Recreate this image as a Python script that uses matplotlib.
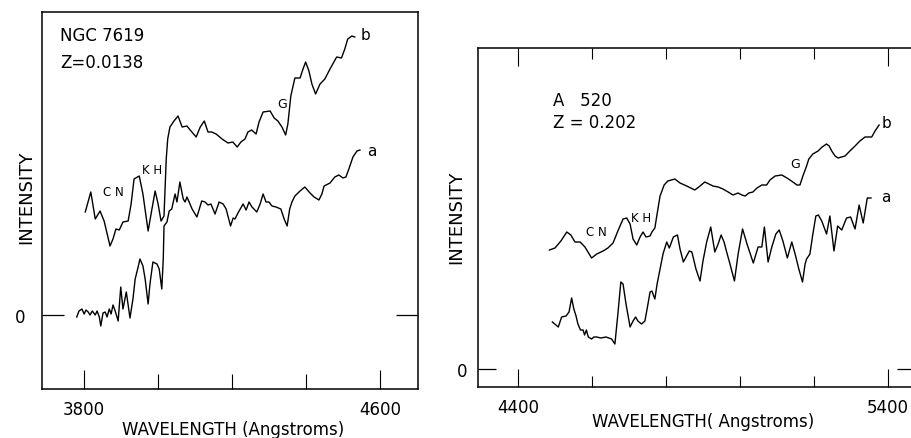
import matplotlib
matplotlib.use("Agg")
import matplotlib.pyplot as plt

# --- NGC 7619 (z = 0.0138), intensity in arbitrary units, 0 = zero level ---
ngc_b_wl = [3803, 3818, 3830, 3843, 3854, 3870, 3878, 3886, 3895, 3905, 3919, 3927,
            3935, 3949, 3959, 3973, 3981, 3992, 4000, 4008, 4016, 4022, 4026, 4032,
            4043, 4054, 4065, 4078, 4089, 4103, 4114, 4125, 4135, 4145, 4157, 4173,
            4189, 4202, 4214, 4224, 4235, 4243, 4253, 4265, 4273, 4284, 4303, 4314,
            4324, 4335, 4345, 4351, 4359, 4370, 4384, 4392, 4399, 4408, 4416, 4426,
            4438, 4451, 4465, 4483, 4496, 4505, 4513, 4524, 4532]
ngc_b_int = [10.3, 12.3, 9.6, 10.4, 9.4, 6.9, 7.6, 8.6, 8.5, 9.3, 9.4, 11.1,
             13.6, 13.9, 12.1, 8.4, 10.1, 12.4, 11.1, 9.4, 9.9, 15.6, 17.6, 18.8,
             19.4, 19.9, 18.8, 18.9, 18.4, 17.8, 18.8, 19.4, 18.3, 18.3, 18.1, 17.6,
             17.2, 17.3, 16.8, 17.3, 17.6, 18.3, 18.5, 18.1, 19.3, 20.3, 20.4, 19.7,
             19.4, 18.8, 18.0, 19.1, 21.9, 23.7, 23.7, 24.6, 25.3, 24.4, 23.1, 22.1,
             23.1, 23.6, 24.6, 25.8, 25.7, 26.6, 27.6, 27.9, 27.8]

ngc_a_wl = [3780, 3786, 3794, 3800, 3805, 3811, 3816, 3822, 3830, 3835, 3841, 3845,
            3851, 3857, 3862, 3868, 3873, 3878, 3884, 3892, 3899, 3905, 3914, 3924,
            3932, 3938, 3946, 3951, 3959, 3965, 3973, 3978, 3986, 3997, 4003, 4010,
            4014, 4016, 4024, 4030, 4037, 4041, 4046, 4051, 4059, 4068, 4073, 4078,
            4084, 4092, 4105, 4118, 4127, 4135, 4143, 4154, 4165, 4176, 4184, 4196,
            4203, 4208, 4216, 4230, 4238, 4246, 4254, 4267, 4276, 4284, 4292, 4300,
            4308, 4319, 4332, 4341, 4349, 4356, 4362, 4370, 4384, 4397, 4411, 4422,
            4435, 4443, 4449, 4465, 4478, 4489, 4500, 4508, 4516, 4527, 4538, 4546]
ngc_a_int = [-0.2, 0.4, 0.6, 0.1, 0.5, 0.3, 0.0, 0.4, 0.0, 0.4, -0.2, -1.1,
             0.2, 0.3, -0.2, 0.6, 0.1, 1.0, 0.4, -0.6, 2.8, 0.6, 2.3, -0.3,
             1.6, 3.6, 4.8, 5.6, 4.9, 3.6, 1.1, 3.1, 5.3, 5.1, 4.6, 2.6,
             5.6, 8.9, 9.3, 10.4, 10.6, 11.3, 12.1, 11.3, 13.3, 11.6, 11.3, 11.8,
             11.3, 10.6, 9.8, 11.4, 11.3, 11.0, 11.1, 10.1, 11.3, 11.1, 10.6, 8.9,
             9.7, 9.6, 10.2, 11.1, 10.5, 11.3, 10.8, 10.3, 11.1, 12.1, 11.3, 11.3,
             10.9, 10.8, 10.6, 9.6, 8.9, 10.6, 11.3, 11.9, 12.4, 12.8, 12.2, 11.8,
             11.5, 12.1, 12.9, 13.2, 13.8, 14.0, 13.7, 13.8, 14.6, 15.8, 16.4, 16.5]

# --- A 520 (z = 0.202) ---
a520_b_wl = [4485, 4500, 4516, 4532, 4543, 4554, 4568, 4581, 4599, 4613, 4630, 4643,
             4657, 4670, 4684, 4694, 4703, 4711, 4721, 4730, 4738, 4746, 4757, 4762,
             4770, 4776, 4784, 4795, 4805, 4824, 4838, 4856, 4878, 4892, 4905, 4916,
             4927, 4941, 4954, 4968, 4981, 4995, 5005, 5014, 5024, 5035, 5046, 5059,
             5072, 5081, 5095, 5113, 5127, 5143, 5154, 5162, 5170, 5180, 5186, 5197,
             5211, 5222, 5234, 5241, 5248, 5257, 5265, 5284, 5297, 5311, 5324, 5338,
             5356, 5365, 5376]
a520_b_int = [11.9, 12.1, 12.8, 13.7, 13.4, 12.7, 12.7, 12.2, 11.1, 11.5, 11.8, 12.1,
              12.6, 13.8, 15.0, 15.1, 14.5, 13.0, 12.4, 13.2, 13.7, 13.2, 13.3, 13.7,
              14.1, 15.5, 17.3, 18.4, 18.8, 19.0, 18.6, 18.3, 17.9, 18.3, 18.7, 18.5,
              18.3, 18.2, 18.0, 17.7, 17.4, 17.6, 17.4, 17.3, 17.6, 17.7, 18.1, 18.4,
              18.4, 18.9, 19.3, 19.4, 19.1, 18.7, 18.4, 18.4, 19.3, 20.3, 21.0, 21.5,
              21.8, 22.2, 22.5, 22.3, 21.8, 21.3, 21.1, 21.3, 21.8, 22.3, 22.8, 23.2,
              23.2, 23.8, 24.4]

a520_a_wl = [4493, 4509, 4518, 4530, 4538, 4545, 4551, 4557, 4562, 4569, 4576, 4580,
             4585, 4590, 4599, 4605, 4613, 4624, 4638, 4653, 4662, 4670, 4678, 4684,
             4692, 4703, 4711, 4718, 4724, 4734, 4743, 4749, 4757, 4762, 4770, 4776,
             4784, 4792, 4802, 4809, 4820, 4831, 4838, 4847, 4863, 4870, 4881, 4892,
             4900, 4910, 4921, 4932, 4941, 4949, 4957, 4964, 4973, 4985, 4995, 5007,
             5019, 5036, 5049, 5059, 5066, 5076, 5086, 5097, 5106, 5116, 5128, 5140,
             5149, 5159, 5169, 5176, 5180, 5189, 5197, 5205, 5212, 5221, 5227, 5234,
             5243, 5254, 5264, 5275, 5288, 5299, 5311, 5322, 5333, 5344, 5354]
a520_a_int = [4.7, 4.2, 5.2, 5.3, 5.7, 7.1, 6.0, 5.3, 4.5, 3.9, 3.9, 3.4,
              3.9, 3.2, 3.0, 3.2, 3.2, 3.1, 3.2, 3.0, 2.5, 5.5, 8.7, 8.5,
              6.5, 4.2, 4.8, 5.2, 4.8, 4.5, 4.8, 6.0, 7.7, 7.8, 7.0, 8.5,
              10.0, 11.5, 12.7, 12.1, 13.2, 13.4, 12.0, 10.7, 11.8, 11.7, 10.0, 8.8,
              10.8, 12.7, 14.2, 11.7, 12.5, 13.4, 12.7, 11.7, 10.5, 8.8, 11.5, 14.0,
              12.5, 10.6, 12.2, 12.2, 14.2, 10.7, 12.2, 13.5, 13.9, 12.8, 11.1, 12.7,
              11.5, 10.0, 8.7, 10.5, 11.0, 11.5, 13.5, 15.3, 15.4, 14.8, 14.2, 13.5,
              15.3, 11.8, 14.3, 13.9, 15.1, 15.2, 14.0, 16.4, 14.6, 17.1, 17.1]

W, H = 912, 439
fig = plt.figure(figsize=(W / 100, H / 100), dpi=100)
plt.rcParams['font.family'] = 'DejaVu Sans'


def box(x0, y0, x1, y1):
    # pixel box -> figure fraction [left, bottom, width, height]
    return [x0 / W, 1 - y1 / H, (x1 - x0) / W, (y1 - y0) / H]


ax1 = fig.add_axes(box(42, 13, 418, 390))
ax2 = fig.add_axes(box(478, 49, 915, 388))

for ax in (ax1, ax2):
    for s in ax.spines.values():
        s.set_linewidth(1.1)

# left panel
ax1.plot(ngc_b_wl, ngc_b_int, color='black', lw=1.0)
ax1.plot(ngc_a_wl, ngc_a_int, color='black', lw=1.0)
ax1.set_xlim(3686, 4703)
ax1.set_ylim(-7.4, 30.3)
ax1.set_xticks([3800, 4600], ['3800', '4600'])
ax1.set_xticks([4000, 4200, 4400], minor=True)
ax1.set_yticks([0], ['0'])
ax1.tick_params(axis='x', which='major', direction='in', length=14, width=0.8,
                labelsize=12, pad=8)
ax1.tick_params(axis='x', which='minor', direction='in', length=11, width=0.8)
ax1.tick_params(axis='y', direction='in', length=16, width=0.9, left=True,
                right=True, labelsize=12, pad=12)

ax1.text(3735, 28.0, 'NGC 7619', fontsize=12, va='center')
ax1.text(3735, 25.3, 'Z=0.0138', fontsize=12, va='center')
ax1.text(3878, 12.3, 'C N', fontsize=8.5, ha='center', va='center')
ax1.text(3984, 14.6, 'K H', fontsize=8.5, ha='center', va='center')
ax1.text(4335, 21.2, 'G', fontsize=9, ha='center', va='center')
ax1.text(4562, 28.1, 'b', fontsize=11, ha='center', va='center')
ax1.text(4578, 16.5, 'a', fontsize=11, ha='center', va='center')

# right panel
ax2.plot(a520_b_wl, a520_b_int, color='black', lw=1.0)
ax2.plot(a520_a_wl, a520_a_int, color='black', lw=1.0)
ax2.set_xlim(4292, 5473)
ax2.set_ylim(-1.8, 32.1)
ax2.set_xticks([4400, 5400], ['4400', '5400'])
ax2.set_xticks([4600, 4800, 5000, 5200], minor=True)
ax2.set_yticks([0], ['0'])
ax2.tick_params(axis='x', which='major', direction='in', length=13, width=0.8,
                top=True, labelsize=12, pad=8)
ax2.tick_params(axis='x', which='minor', direction='in', length=8, width=0.8,
                top=True)
ax2.tick_params(axis='y', direction='in', length=13, width=0.9, left=True,
                right=True, labelsize=12, pad=8)

ax2.text(4495, 26.9, 'A   520', fontsize=12, va='center')
ax2.text(4495, 24.7, 'Z = 0.202', fontsize=12, va='center')
ax2.text(4613, 13.8, 'C N', fontsize=8.5, ha='center', va='center')
ax2.text(4734, 15.1, 'K H', fontsize=8.5, ha='center', va='center')
ax2.text(5149, 20.6, 'G', fontsize=9, ha='center', va='center')
ax2.text(5397, 24.6, 'b', fontsize=11, ha='center', va='center')
ax2.text(5395, 17.2, 'a', fontsize=11, ha='center', va='center')

# axis titles
fig.text(26 / W, 1 - 197 / H, 'INTENSITY', rotation=90, fontsize=13,
         ha='center', va='center')
fig.text(456 / W, 1 - 217 / H, 'INTENSITY', rotation=90, fontsize=13,
         ha='center', va='center')
fig.text(233 / W, 1 - 430 / H, 'WAVELENGTH (Angstroms)', fontsize=12,
         ha='center', va='center')
fig.text(703 / W, 1 - 422 / H, 'WAVELENGTH( Angstroms)', fontsize=12,
         ha='center', va='center')

fig.savefig('out.png', dpi=100)
